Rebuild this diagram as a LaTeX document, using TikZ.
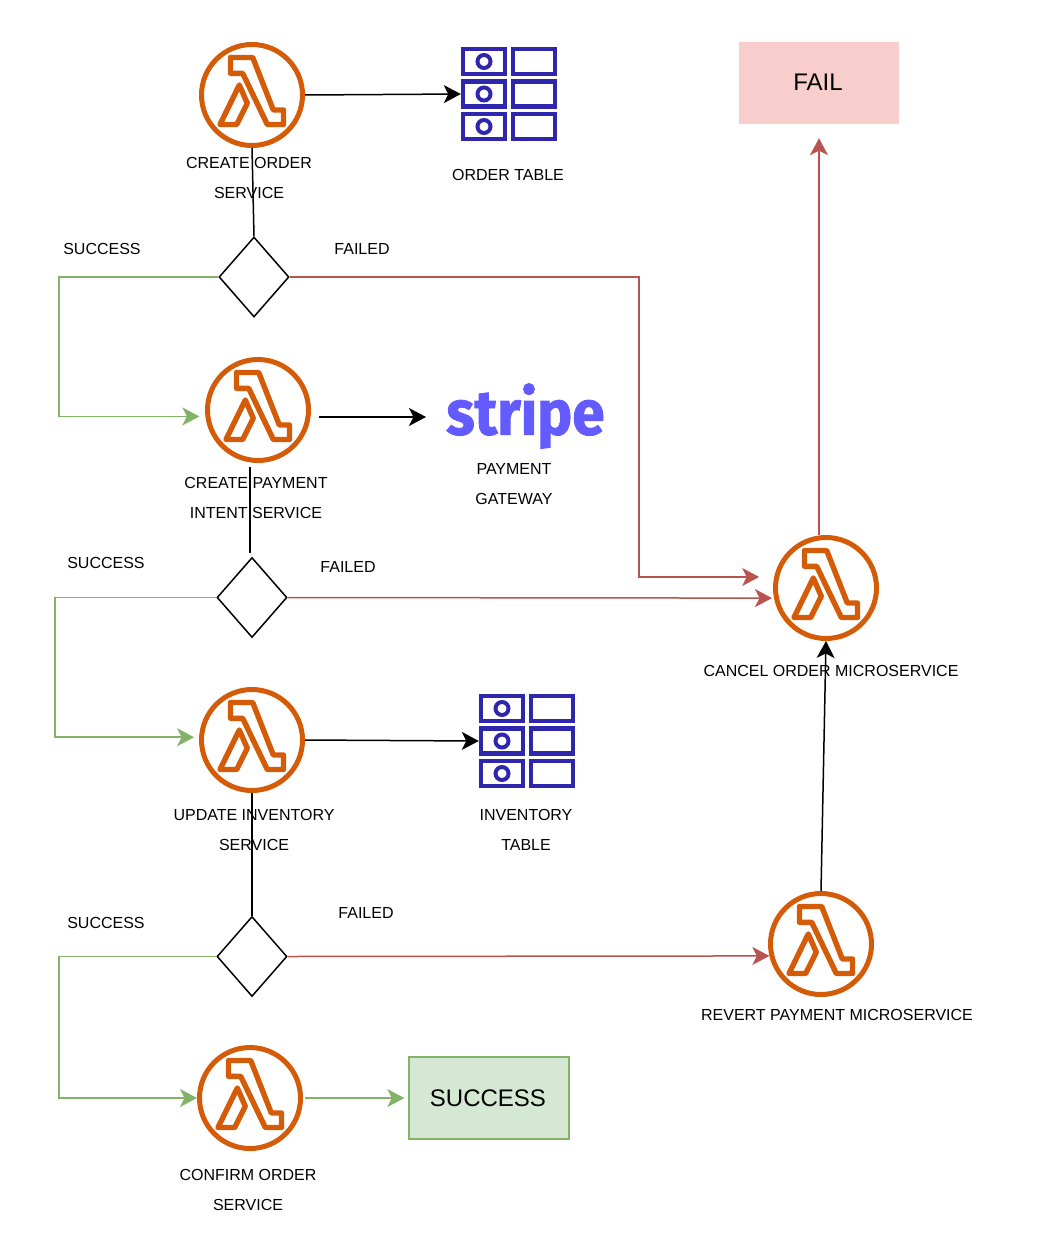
\documentclass[tikz,border=0pt]{standalone}
\usepackage{fontspec}
\setmainfont{Liberation Sans}
\newfontfamily\stripefont[BoldFeatures={FakeBold=1.4,FakeStretch=0.93}]{Fira Sans}
\usetikzlibrary{positioning,calc,arrows.meta,shapes.geometric}
\definecolor{lambdaorange}{HTML}{D45B07}
\definecolor{tableblue}{HTML}{2E27AD}
\definecolor{stripeblue}{HTML}{635BFF}
\definecolor{okline}{HTML}{82B366}
\definecolor{okfill}{HTML}{D5E8D4}
\definecolor{badline}{HTML}{B85450}
\definecolor{badfill}{HTML}{F8CECC}
\tikzset{
  lambdanode/.style={circle,draw=lambdaorange,line width=5pt,minimum size=101pt,inner sep=0pt},
  decision/.style={diamond,draw,line width=1.5pt,minimum width=70pt,minimum height=80pt,inner sep=0pt,shape aspect=0.875},
  lab/.style={align=center,font=\fontsize{16}{30}\selectfont},
  tablenode/.style={minimum width=96pt,minimum height=94pt,inner sep=0pt},
  conn/.style={line width=1.5pt,-{Stealth[length=17pt,width=18pt,inset=4.5pt]}},
  plain/.style={line width=1.5pt},
  good/.style={conn,draw=okline},
  bad/.style={conn,draw=badline}
}
% lambda glyph inside a node
\newcommand{\LambdaGlyph}[1]{
  \draw[shift={(#1)},draw=lambdaorange,line width=5.4pt,line join=round]
    (-21.5,-37.5) -- (0.7,-37.5) -- (21.3,15) -- (31.5,15) -- (31.5,29.5) -- (15.3,29.5)
    -- (-9.3,-21.7) -- (-21.5,-21.7) -- cycle
    (-12.7,-10) -- (-32,29.5) -- (-15.3,29.5) -- (-4.7,8.3) -- cycle;
}
% table glyph: three rows of two cells
\newcommand{\TableGlyph}[1]{
  \foreach \r in {-32.5,0,32.5}{
    \draw[shift={(#1)},draw=tableblue,line width=4.4pt]
      (-46,\r-12.5) rectangle (-4,\r+12.5)
      (4,\r-12.5) rectangle (46,\r+12.5);
    \draw[shift={(#1)},draw=tableblue,line width=4pt] (-25,\r) circle (6.5);
  }
}
\begin{document}
\begin{tikzpicture}[x=1pt,y=-1pt]
  \useasboundingbox (0,0) rectangle (1064,1258);
  % lambda services
  \foreach \n/\x/\y in {createOrder/252/95,createPayment/258/410,updateInventory/252/740,confirmOrder/250/1098,cancelOrder/826/588,revertPayment/821/944}{
    \node[lambdanode] (\n) at (\x,\y) {};
    \LambdaGlyph{\x,\y}
  }
  % decisions
  \node[decision] (checkOne) at (254,277) {};
  \node[decision] (checkTwo) at (252,597.5) {};
  \node[decision] (checkThree) at (252,956.5) {};
  % tables and logo
  \node[tablenode] (orderTable) at (509,94) {};
  \TableGlyph{509,94}
  \node[tablenode] (inventoryTable) at (527,741) {};
  \TableGlyph{527,741}
  \node[text=stripeblue,inner sep=0pt] (stripeLogo) at (525.5,416) {\fontsize{63}{63}\stripefont\bfseries stripe};
  % end states
  \node[fill=badfill,minimum width=160pt,minimum height=82pt,inner sep=0pt,font=\fontsize{24}{28}\selectfont] (failBox) at (819,83) {\raisebox{1pt}{FAIL\kern2pt}};
  \node[fill=okfill,draw=okline,line width=1.3pt,minimum width=160pt,minimum height=82pt,inner sep=0pt,font=\fontsize{24}{28}\selectfont] (successBox) at (489,1098) {\raisebox{0.5pt}{SUCCESS\kern2pt}};
  % rails for the elbows
  \coordinate (railOne) at (59,347);
  \coordinate (railTwo) at (55,667);
  \coordinate (railThree) at (59,1027);
  \coordinate (railBad) at (639,427);
  \coordinate (stripeIn) at (426,417);
  \coordinate (paymentOut) at (250,467);
  \coordinate (checkTwoIn) at (250,553);
  % black connectors
  \draw[conn] (createOrder.east) -- (orderTable.west);
  \draw[conn,shorten <=8pt] (createPayment.east |- stripeIn) -- (stripeIn);
  \draw[conn] (updateInventory.east) -- (inventoryTable.west);
  \draw[conn] (revertPayment.north) -- (cancelOrder.south);
  \draw[plain] (createOrder.south) -- (checkOne.north);
  \draw[plain] (paymentOut) -- (checkTwoIn);
  \draw[plain] (updateInventory.south) -- (checkThree.north);
  % success branches
  \draw[good,shorten >=6pt] (checkOne.west) -| (railOne) |- (createPayment.187);
  \draw[good,shorten >=5pt] (checkTwo.west) -| (railTwo) |- (updateInventory.177);
  \draw[good] (checkThree.west) -| (railThree) |- (confirmOrder.west);
  \draw[good,shorten <=2pt,shorten >=4pt] (confirmOrder.east) -- (successBox.west);
  % failure branches
  \draw[bad,shorten >=15pt] (checkOne.east) -| (railBad) |- (cancelOrder.168);
  \draw[bad,shorten >=2pt] (checkTwo.east) -- (cancelOrder.191);
  \draw[bad] (checkThree.east) -- (revertPayment.193);
  \draw[bad,shorten >=14pt] (cancelOrder.north -| failBox.south) -- (failBox.south);
  % labels
  \node[lab] (createOrderLab) at (249,178) {CREATE ORDER\\SERVICE};
  \node[lab] (orderTableLab) at (508,175) {ORDER TABLE};
  \node[lab] (createPaymentLab) at (256,498) {CREATE PAYMENT\\INTENT SERVICE};
  \node[lab] (gatewayLab) at (514,484) {PAYMENT\\GATEWAY};
  \node[lab] (updateInventoryLab) at (254,830) {UPDATE INVENTORY\\SERVICE};
  \node[lab] (inventoryTableLab) at (526,830) {INVENTORY\\TABLE};
  \node[lab] (confirmOrderLab) at (248,1190) {CONFIRM ORDER\\SERVICE};
  \node[lab] (cancelOrderLab) at (831,671) {CANCEL ORDER MICROSERVICE};
  \node[lab] (revertPaymentLab) at (837,1015) {REVERT PAYMENT MICROSERVICE};
  \foreach \n/\x/\y/\t in {succOne/102/249/SUCCESS,succTwo/106/563/SUCCESS,succThree/106/923/SUCCESS,failOne/362/249/FAILED,failTwo/348/567/FAILED,failThree/366/913/FAILED}{
    \node[lab] (\n) at (\x,\y) {\t};
  }
\end{tikzpicture}
\end{document}
